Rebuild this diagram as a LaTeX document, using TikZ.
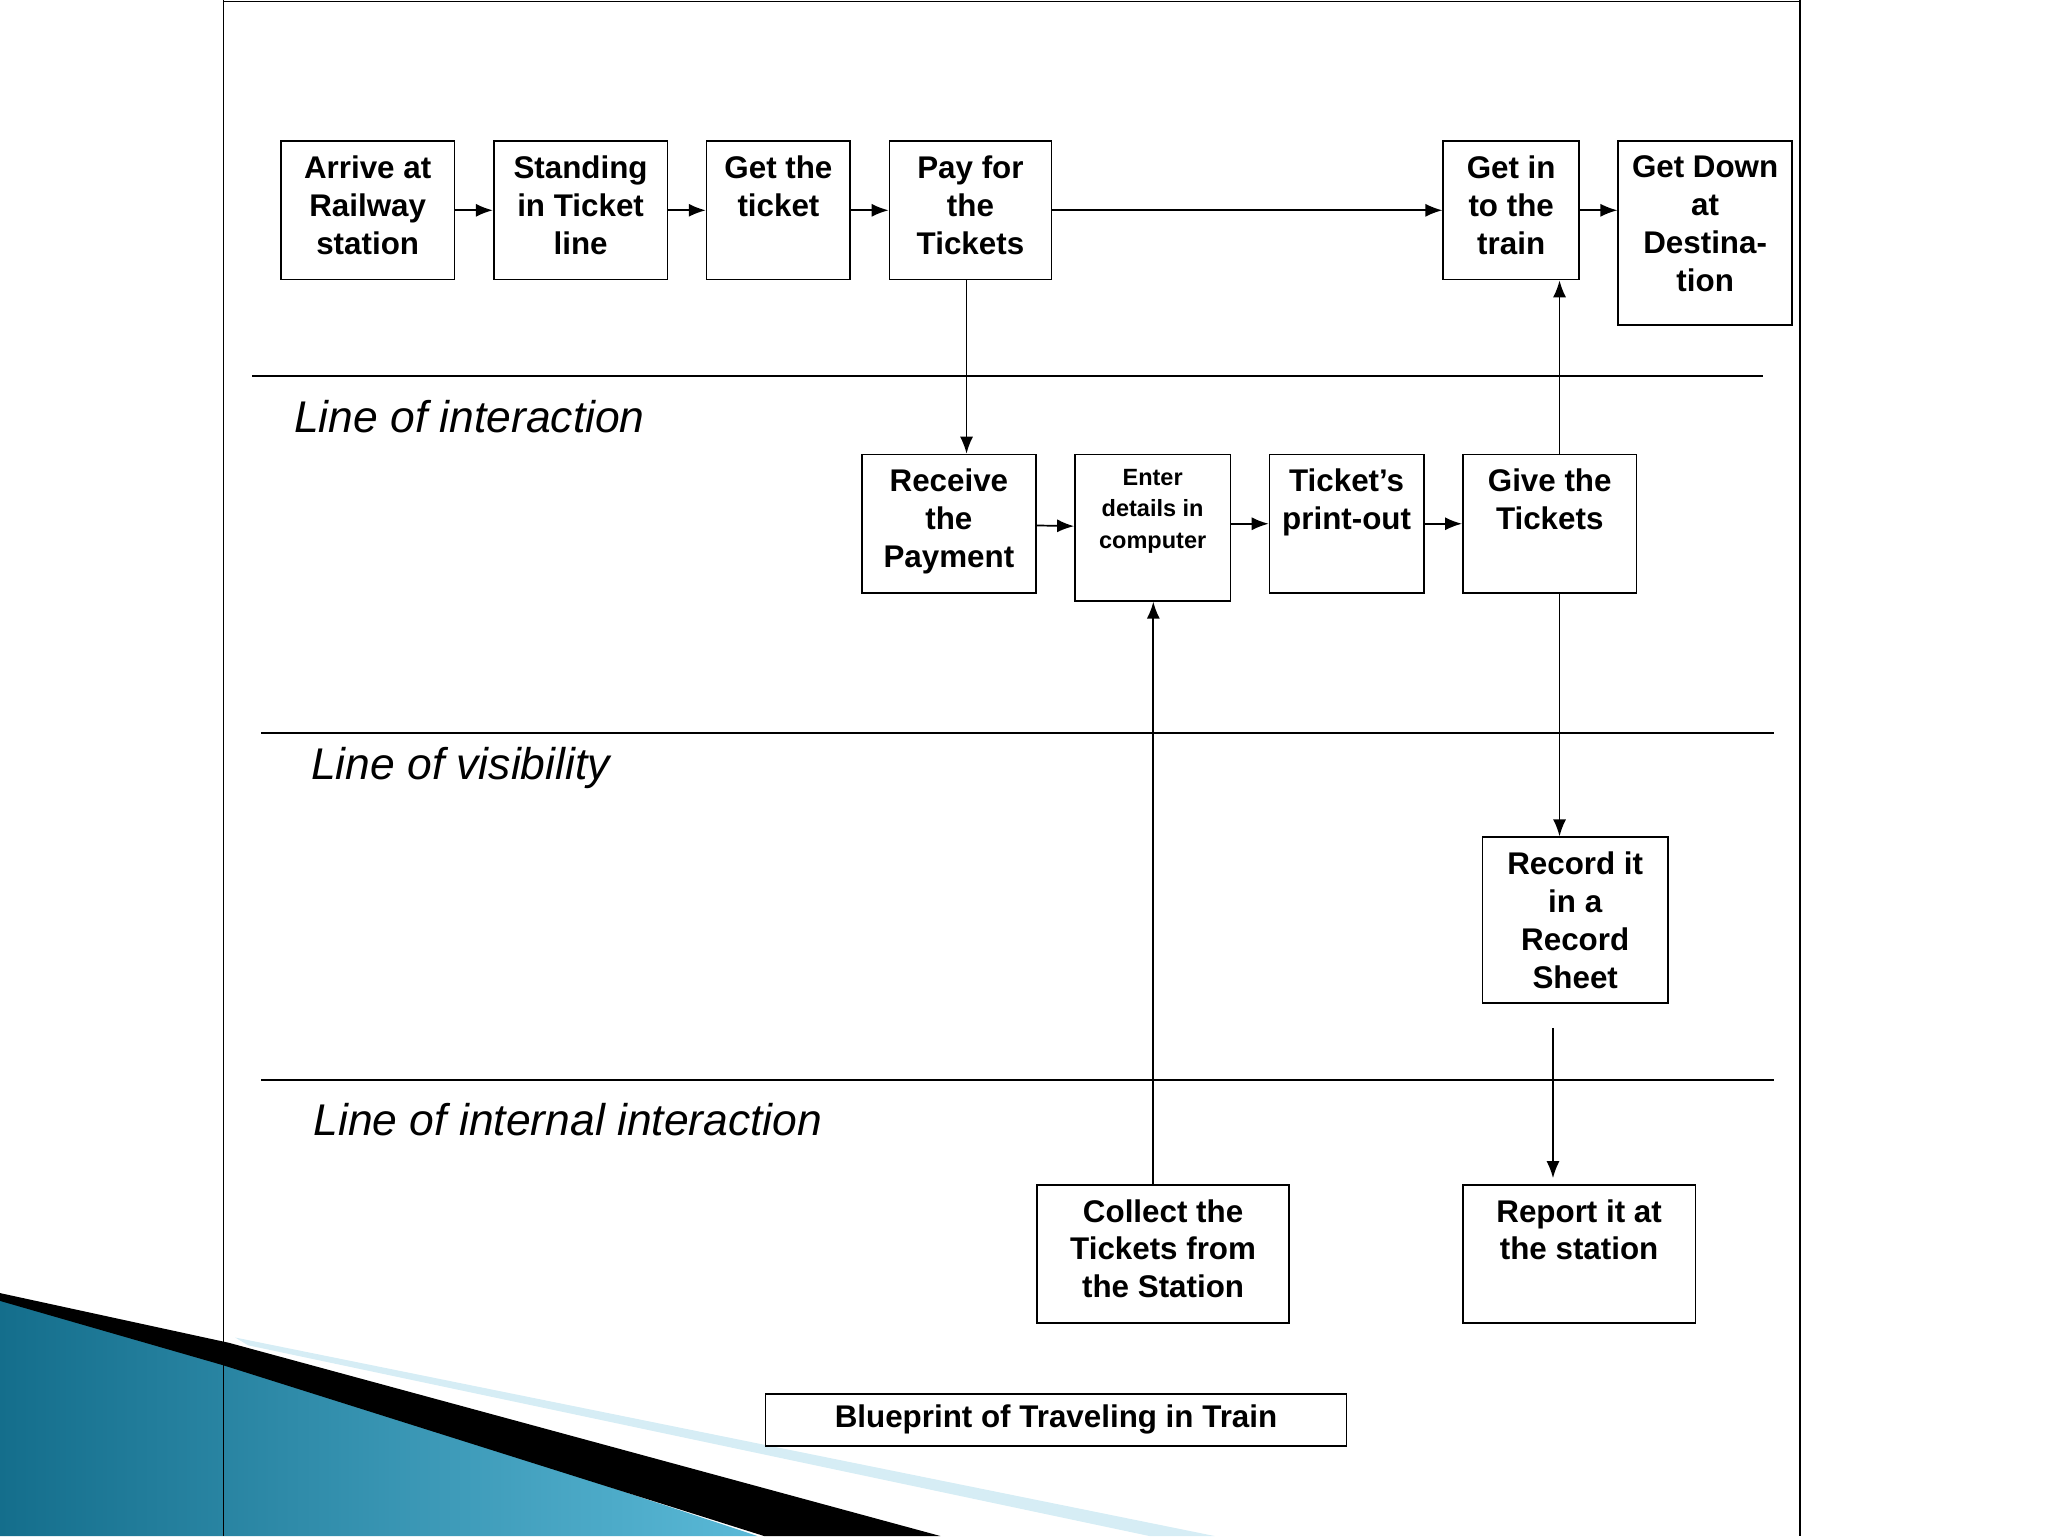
\documentclass[tikz,border=0pt]{standalone}
\usepackage{fontspec}
\setmainfont{Liberation Sans}
\usetikzlibrary{arrows.meta}
\definecolor{tealA}{RGB}{20,110,140}
\definecolor{tealB}{RGB}{90,185,215}
\begin{document}
\begin{tikzpicture}[x=1pt,y=-1pt,
  box/.style={draw,line width=1.3pt,inner sep=0pt},
  txt/.style={anchor=north,align=center,font=\fontsize{24}{29}\selectfont\bfseries,inner sep=0pt},
  lab/.style={anchor=west,font=\fontsize{34}{38}\selectfont\itshape,inner sep=0pt},
  arr/.style={line width=1.3pt,-{Latex[length=13pt,width=10pt]}},
  sep/.style={line width=1.3pt}]
\useasboundingbox (0,0) rectangle (1568,1176);
% decoration
\shade[left color=tealA,right color=tealB] (0,995) -- (170,1040) -- (580,1176) -- (0,1176) -- cycle;
\fill[black] (0,990) -- (175,1028) -- (720,1176) -- (585,1176) -- (170,1045) -- (0,996) -- cycle;
\fill[tealB!25!white] (180,1024) -- (930,1176) -- (880,1176) -- (190,1030) -- cycle;
% frame
\draw[line width=1pt] (171,0) -- (171,1176);
\draw[line width=1pt] (171,1) -- (1378,1);
\draw[line width=1pt] (1378,0) -- (1378,1176);
% boxes
\newcommand{\bx}[7]{\node[box,minimum width=#3-#2,minimum height=#5-#4] (#1) at ({(#2+#3)/2},{(#4+#5)/2}) {};
  \node[txt,#6] at ({(#2+#3)/2},{#4+11}) {#7};}
\bx{a1}{215}{348}{108}{214}{}{Arrive at\\Railway\\station}
\bx{a2}{378}{511}{108}{214}{}{Standing\\in Ticket\\line}
\bx{a3}{541}{651}{108}{214}{}{Get the\\ticket}
\bx{a4}{681}{805}{108}{214}{}{Pay for\\the\\Tickets}
\bx{a5}{1105}{1209}{108}{214}{}{Get in\\to the\\train}
\bx{a6}{1239}{1372}{108}{249}{}{Get Down\\at\\Destina-\\tion}
\bx{b1}{660}{793}{348}{454}{}{Receive\\the\\Payment}
\bx{b2}{823}{942}{348}{460}{font=\fontsize{18}{24}\selectfont\bfseries}{Enter\\details in\\computer}
\bx{b3}{972}{1090}{348}{454}{}{Ticket’s\\print-out}
\bx{b4}{1120}{1253}{348}{454}{}{Give the\\Tickets}
\bx{c1}{1135}{1277}{641}{768}{}{Record it\\in a\\Record\\Sheet}
\bx{d1}{794}{987}{907}{1013}{}{Collect the\\Tickets from\\the Station}
\bx{d2}{1120}{1298}{907}{1013}{}{Report it at\\the station}
\node[box,minimum width=445,minimum height=40,font=\fontsize{24}{29}\selectfont\bfseries] (t) at (808.5,1087) {Blueprint of Traveling in Train};
% separators
\draw[sep] (193,288) -- (1350,288);
\draw[sep] (200,561) -- (1358,561);
\draw[sep] (200,827) -- (1358,827);
\node[lab] (l1) at (225,319) {Line of interaction};
\node[lab] (l2) at (238,588) {Line of visibility};
\node[lab] (l3) at (240,857) {Line of internal interaction};
% arrows
\draw[arr] (a1) -- (a2);
\draw[arr] (a2) -- (a3);
\draw[arr] (a3) -- (a4);
\draw[arr] (a4.east |- 0,161) -- (a5.west |- 0,161);
\draw[arr] (a5) -- (a6.west |- a5);
\draw[arr] (a4.south -| 740,0) -- (b1.north -| 740,0);
\draw[arr] (b1) -- (b2);
\draw[arr] (b2.east |- b3) -- (b3);
\draw[arr] (b3) -- (b4);
\draw[arr] (b4.north -| 1194,0) -- (a5.south -| 1194,0);
\draw[arr] (b4.south -| 1194,0) -- (c1.north -| 1194,0);
\coordinate (r0) at (1189,787);
\coordinate (r1) at (1189,902);
\draw[arr] (r0) -- (r1);
\draw[arr] (d1.north -| 883,0) -- (b2.south -| 883,0);
\end{tikzpicture}
\end{document}
